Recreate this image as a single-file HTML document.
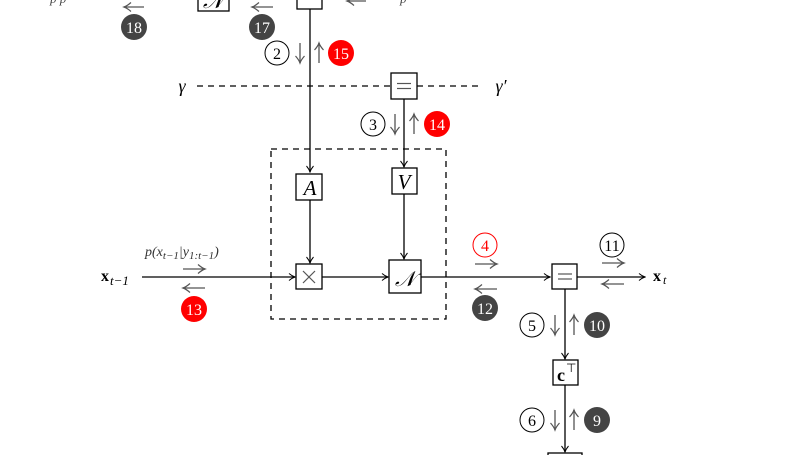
<!DOCTYPE html>
<html><head><meta charset="utf-8"><style>
html,body{margin:0;padding:0;background:#fff;width:808px;height:455px;overflow:hidden}
svg{display:block}
text{font-family:"Liberation Serif",serif;}
</style></head><body>
<svg width="808" height="455" viewBox="0 0 808 455" xmlns="http://www.w3.org/2000/svg">
<defs>
<marker id="ar" markerWidth="8" markerHeight="8" refX="7" refY="4" orient="auto" markerUnits="userSpaceOnUse">
<path d="M1,0.5 Q4,3 7,4 Q4,5 1,7.5" fill="none" stroke="#000" stroke-width="1"/>
</marker>
<marker id="sa" markerWidth="10" markerHeight="10" refX="8" refY="5" orient="auto" markerUnits="userSpaceOnUse">
<path d="M1,0.5 Q5,4 8,5 Q5,6 1,9.5" fill="none" stroke="#555" stroke-width="1.2"/>
</marker>
</defs>
<g stroke="#000" stroke-width="1.3" fill="none">
<rect x="198" y="-20" width="31" height="31" fill="#fff"/>
<rect x="297" y="-20" width="25" height="29" fill="#fff"/>
<line x1="310" y1="9" x2="310" y2="172" marker-end="url(#ar)"/>
<line x1="310" y1="200" x2="310" y2="263" marker-end="url(#ar)"/>
<line x1="197" y1="86" x2="391" y2="86" stroke-dasharray="6,5"/>
<line x1="417" y1="86" x2="482" y2="86" stroke-dasharray="6,5"/>
<rect x="391" y="73" width="26" height="26" fill="#fff"/>
<line x1="404" y1="99" x2="404" y2="167" marker-end="url(#ar)"/>
<line x1="404" y1="194" x2="404" y2="259" marker-end="url(#ar)"/>
<rect x="271" y="149" width="175" height="170" stroke-dasharray="6,5"/>
<rect x="296" y="174" width="26" height="26" fill="#fff"/>
<rect x="392" y="168" width="25" height="26" fill="#fff"/>
<rect x="296" y="264" width="26" height="25" fill="#fff"/>
<rect x="389" y="260" width="32" height="33" fill="#fff"/>
<line x1="142" y1="277" x2="295" y2="277" marker-end="url(#ar)"/>
<line x1="322" y1="277" x2="388" y2="277" marker-end="url(#ar)"/>
<line x1="421" y1="277" x2="550" y2="277" marker-end="url(#ar)"/>
<rect x="552" y="264" width="25" height="25" fill="#fff"/>
<line x1="577" y1="277" x2="645" y2="277" marker-end="url(#ar)"/>
<line x1="565" y1="289" x2="565" y2="359" marker-end="url(#ar)"/>
<rect x="553" y="360" width="25" height="25" fill="#fff"/>
<line x1="565" y1="385" x2="565" y2="452" marker-end="url(#ar)"/>
<rect x="548" y="453" width="34" height="20" fill="#fff"/>
</g>
<g stroke="#555" stroke-width="1.2">
<line x1="397" y1="83.5" x2="411" y2="83.5"/><line x1="397" y1="88.5" x2="411" y2="88.5"/>
<line x1="558" y1="274" x2="572" y2="274"/><line x1="558" y1="279" x2="572" y2="279"/>
<line x1="303" y1="271" x2="315" y2="283"/><line x1="315" y1="271" x2="303" y2="283"/>
</g>
<!-- small arrows -->
<g stroke="#555" stroke-width="1.3" fill="none" marker-end="url(#sa)">
<line x1="183" y1="269" x2="205" y2="269"/>
<line x1="205" y1="288" x2="183" y2="288"/>
<line x1="475" y1="264" x2="497" y2="264"/>
<line x1="497" y1="289" x2="475" y2="289"/>
<line x1="602" y1="263" x2="624" y2="263"/>
<line x1="624" y1="284" x2="602" y2="284"/>
<line x1="144" y1="7" x2="124" y2="7"/>
<line x1="273" y1="7" x2="252" y2="7"/>
<line x1="366" y1="1" x2="347" y2="1"/>
<line x1="300" y1="43" x2="300" y2="63"/>
<line x1="319" y1="63" x2="319" y2="43"/>
<line x1="395" y1="114" x2="395" y2="134"/>
<line x1="414" y1="134" x2="414" y2="114"/>
<line x1="555" y1="315" x2="555" y2="335"/>
<line x1="574" y1="335" x2="574" y2="315"/>
<line x1="555" y1="410" x2="555" y2="430"/>
<line x1="574" y1="430" x2="574" y2="410"/>
</g>
<g font-style="italic" font-size="21" text-anchor="middle">
<text x="310" y="195">A</text>
<text x="404" y="189">V</text>
<text x="405" y="286">𝒩</text>
<text x="213" y="8">𝒩</text>
<text x="182" y="92" font-size="18">γ</text>
<text x="501" y="92" font-size="18">γ′</text>
</g>
<text x="557" y="381" font-size="18" font-weight="bold">c</text>
<text x="566" y="372" font-size="12">⊤</text>
<text x="101" y="281" font-size="16" font-weight="bold">x</text>
<text x="110" y="285" font-size="13" font-style="italic">t−1</text>
<text x="653" y="281" font-size="16" font-weight="bold">x</text>
<text x="663" y="284" font-size="12" font-style="italic">t</text>
<text x="145" y="256" font-size="14" font-style="italic" fill="#333">p(x<tspan font-size="11" dy="3">t−1</tspan><tspan dy="-3">|y</tspan><tspan font-size="11" dy="3">1:t−1</tspan><tspan dy="-3">)</tspan></text>
<text x="50" y="3" font-size="13" font-style="italic" fill="#444">p p</text>
<text x="400" y="3" font-size="13" font-style="italic" fill="#444">p</text>
<g font-size="16" text-anchor="middle">
<circle cx="134" cy="27" r="13" fill="#444"/><text x="134" y="33" fill="#fff">18</text>
<circle cx="262" cy="27" r="13" fill="#444"/><text x="262" y="33" fill="#fff">17</text>
<circle cx="277" cy="53" r="12" fill="#fff" stroke="#000"/><text x="277" y="59">2</text>
<circle cx="341" cy="53" r="13" fill="#f00"/><text x="341" y="59" fill="#fff">15</text>
<circle cx="373" cy="124" r="12" fill="#fff" stroke="#000"/><text x="373" y="130">3</text>
<circle cx="437" cy="124" r="13" fill="#f00"/><text x="437" y="130" fill="#fff">14</text>
<circle cx="194" cy="309" r="13" fill="#f00"/><text x="194" y="315" fill="#fff">13</text>
<circle cx="485" cy="245" r="12" fill="#fff" stroke="#f00"/><text x="485" y="251" fill="#f00">4</text>
<circle cx="485" cy="308" r="13" fill="#444"/><text x="485" y="314" fill="#fff">12</text>
<circle cx="612" cy="245" r="12" fill="#fff" stroke="#000"/><text x="612" y="251">11</text>
<circle cx="532" cy="325" r="12" fill="#fff" stroke="#000"/><text x="532" y="331">5</text>
<circle cx="597" cy="325" r="13" fill="#444"/><text x="597" y="331" fill="#fff">10</text>
<circle cx="532" cy="420" r="12" fill="#fff" stroke="#000"/><text x="532" y="426">6</text>
<circle cx="597" cy="420" r="13" fill="#444"/><text x="597" y="426" fill="#fff">9</text>
</g>
</svg>
</body></html>
